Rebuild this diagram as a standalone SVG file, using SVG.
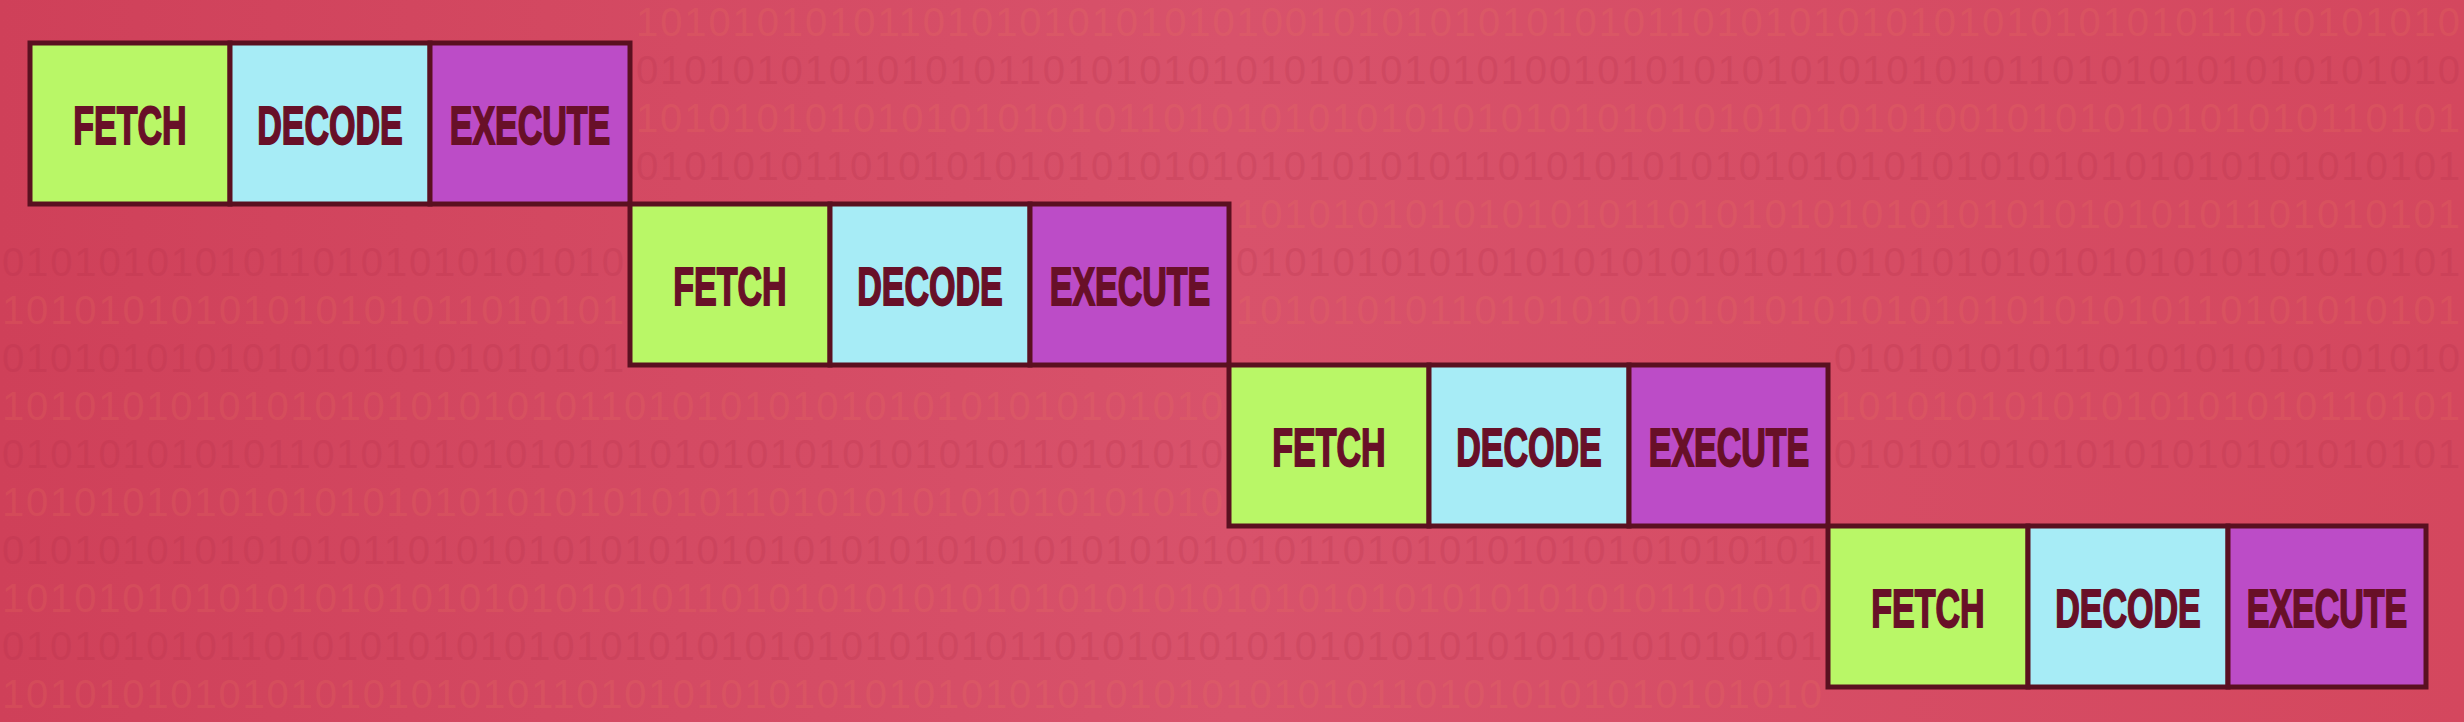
<svg xmlns="http://www.w3.org/2000/svg" width="2464" height="722" viewBox="0 0 2464 722">
<defs>
<linearGradient id="bg" x1="0" y1="0" x2="1" y2="0">
<stop offset="0" stop-color="#cf4059"/>
<stop offset="0.5" stop-color="#d8526b"/>
<stop offset="1" stop-color="#d4475e"/>
</linearGradient>
<style>
.bin{font-family:"Liberation Sans",Arial,sans-serif;font-size:40px;fill:#f2885c;opacity:0.14}
.bin2{font-family:"Liberation Sans",Arial,sans-serif;font-size:40px;fill:#b02c46;opacity:0.2}
.cell{stroke:#5a1020;stroke-width:5}
.fetch{fill:#b9f767}
.decode{fill:#a7ecf6}
.execute{fill:#bc4cc7}
.lbl{font-family:"Liberation Sans",Arial,sans-serif;font-weight:bold;font-size:34px;fill:#681028;stroke:#681028;stroke-width:1.2;text-anchor:middle}
</style>
</defs>
<rect width="2464" height="722" fill="url(#bg)"/>
<g id="binary-background">
<text class="bin" x="636" y="36" textLength="1824" lengthAdjust="spacing">1010101010110101010101010100101010101010101101010101010101010101011010101010</text>
<text class="bin2" x="636" y="84" textLength="1824" lengthAdjust="spacing">0101010101010101101010101010101010101001010101010101010101101010101010101010</text>
<text class="bin" x="636" y="132" textLength="1824" lengthAdjust="spacing">1010101010101010101011010101010101010101010101010101010010101010101010110101</text>
<text class="bin2" x="636" y="180" textLength="1824" lengthAdjust="spacing">0101010110101010101010101010101010110101010101010101010101010101010101010101</text>
<text class="bin" x="1236" y="228" textLength="1224" lengthAdjust="spacing">101010101010101011010101010101010101010101101010101</text>
<text class="bin2" x="2" y="276" textLength="622" lengthAdjust="spacing">01010101010110101010101010</text>
<text class="bin2" x="1236" y="276" textLength="1224" lengthAdjust="spacing">010101010101010101010101101010101010101010101010101</text>
<text class="bin" x="2" y="324" textLength="622" lengthAdjust="spacing">10101010101010101011010101</text>
<text class="bin" x="1236" y="324" textLength="1224" lengthAdjust="spacing">101010101101010101010101010101010101010110101010101</text>
<text class="bin2" x="2" y="372" textLength="622" lengthAdjust="spacing">01010101010101010101010101</text>
<text class="bin2" x="1834" y="372" textLength="626" lengthAdjust="spacing">01010101011010101010101010</text>
<text class="bin" x="2" y="420" textLength="1221" lengthAdjust="spacing">101010101010101010101010110101010101010101010101010</text>
<text class="bin" x="1834" y="420" textLength="626" lengthAdjust="spacing">10101010101010101010110101</text>
<text class="bin2" x="2" y="468" textLength="1221" lengthAdjust="spacing">010101010101101010101010101010101010101010110101010</text>
<text class="bin2" x="1834" y="468" textLength="626" lengthAdjust="spacing">01010101010101010101010101</text>
<text class="bin" x="2" y="516" textLength="1221" lengthAdjust="spacing">101010101010101010101010101010110101010101010101010</text>
<text class="bin2" x="2" y="564" textLength="1820" lengthAdjust="spacing">0101010101010101101010101010101010101010101010101010101101010101010101010101</text>
<text class="bin" x="2" y="612" textLength="1820" lengthAdjust="spacing">1010101010101010101010101010110101010101010101010101010101010101010101101010</text>
<text class="bin2" x="2" y="660" textLength="1820" lengthAdjust="spacing">0101010101101010101010101010101010101010101101010101010101010101010101010101</text>
<text class="bin" x="2" y="708" textLength="1820" lengthAdjust="spacing">1010101010101010101010110101010101010101010101010101010101101010101010101010</text>
</g>
<g id="connectors"></g>
<g id="row1">
<g id="fetch1"><rect class="cell fetch" x="30" y="43" width="200" height="161"/><text class="lbl" transform="translate(130,144) scale(1,1.57)">FETCH</text></g>
<g id="decode1"><rect class="cell decode" x="230" y="43" width="200" height="161"/><text class="lbl" transform="translate(330,144) scale(1,1.57)">DECODE</text></g>
<g id="execute1"><rect class="cell execute" x="430" y="43" width="200" height="161"/><text class="lbl" transform="translate(530,144) scale(1,1.57)">EXECUTE</text></g>
</g>
<g id="row2">
<g id="fetch2"><rect class="cell fetch" x="630" y="204" width="200" height="161"/><text class="lbl" transform="translate(730,305) scale(1,1.57)">FETCH</text></g>
<g id="decode2"><rect class="cell decode" x="830" y="204" width="200" height="161"/><text class="lbl" transform="translate(930,305) scale(1,1.57)">DECODE</text></g>
<g id="execute2"><rect class="cell execute" x="1030" y="204" width="199" height="161"/><text class="lbl" transform="translate(1130,305) scale(1,1.57)">EXECUTE</text></g>
</g>
<g id="row3">
<g id="fetch3"><rect class="cell fetch" x="1229" y="365" width="200" height="161"/><text class="lbl" transform="translate(1329,466) scale(1,1.57)">FETCH</text></g>
<g id="decode3"><rect class="cell decode" x="1429" y="365" width="200" height="161"/><text class="lbl" transform="translate(1529,466) scale(1,1.57)">DECODE</text></g>
<g id="execute3"><rect class="cell execute" x="1629" y="365" width="199" height="161"/><text class="lbl" transform="translate(1729,466) scale(1,1.57)">EXECUTE</text></g>
</g>
<g id="row4">
<g id="fetch4"><rect class="cell fetch" x="1828" y="526" width="200" height="161"/><text class="lbl" transform="translate(1928,627) scale(1,1.57)">FETCH</text></g>
<g id="decode4"><rect class="cell decode" x="2028" y="526" width="200" height="161"/><text class="lbl" transform="translate(2128,627) scale(1,1.57)">DECODE</text></g>
<g id="execute4"><rect class="cell execute" x="2228" y="526" width="198" height="161"/><text class="lbl" transform="translate(2327,627) scale(1,1.57)">EXECUTE</text></g>
</g>
</svg>
